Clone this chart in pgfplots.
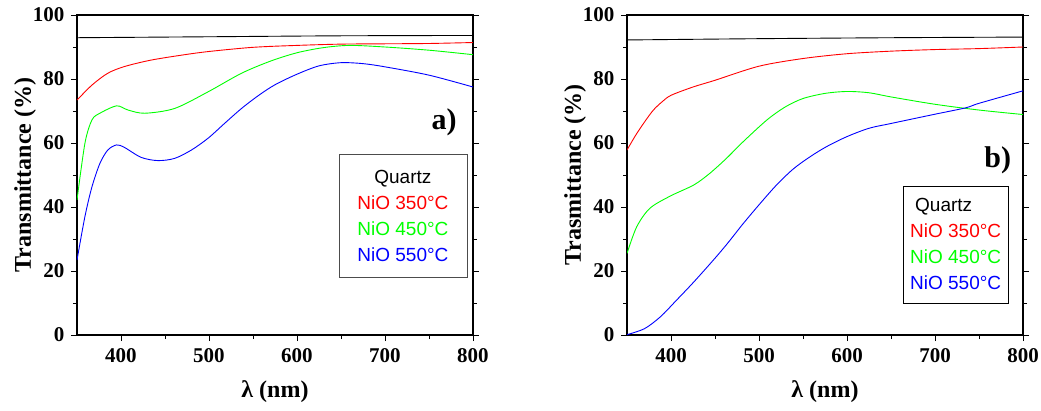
\documentclass[border=0pt]{standalone}
\usepackage{pgfplots}
\pgfplotsset{compat=1.18}
\usepackage{fontspec}
\setmainfont{Liberation Serif}
\setsansfont{Liberation Sans}
\definecolor{pgreen}{RGB}{0,255,0}
\pgfplotsset{
  myax/.style={
    scale only axis, width=396pt, height=320pt,
    xmin=350, xmax=800, ymin=0, ymax=100,
    xtick={400,500,600,700,800}, ytick={0,20,40,60,80,100},
    minor x tick num=1, minor y tick num=1,
    tick align=outside, xtick pos=left, ytick pos=both,
    major tick length=6pt, minor tick length=4pt,
    axis line style={line width=1.1pt}, every tick/.style={line width=0.9pt,black},
    /pgf/number format/assume math mode=true,
    ticklabel style={font=\fontsize{21}{21}\selectfont\bfseries},
    label style={font=\fontsize{24}{24}\selectfont\bfseries},
    xlabel={λ (nm)},
    xlabel style={at={(axis description cs:0.5,-0.178)}, anchor=center},
    ylabel style={at={(axis description cs:-0.131,0.5)}, anchor=center},
    xticklabel style={yshift=-4pt},
    yticklabel style={xshift=-3pt},
    every axis plot/.append style={line width=0.9pt, smooth, no markers},
    clip=true,
  }
}
\begin{document}
\begin{tikzpicture}
\path[use as bounding box] (-77pt,-75pt) rectangle (964pt,335pt);
\begin{axis}[myax, ylabel={Transmittance (\%)}, at={(0pt,0pt)}, anchor=south west]
\addplot[black] coordinates {(350,92.9) (500,93.2) (650,93.5) (800,93.6)};
\addplot[red] coordinates {(350,73.4) (367,78.1) (385,81.8) (404,83.9) (434,85.9) (470,87.5) (500,88.6) (550,89.9) (600,90.5) (650,90.9) (700,91.0) (750,91.1) (800,91.4)};
\addplot[pgreen] coordinates {(350,42.2) (359,59.9) (367,67.2) (376,69.3) (395,71.6) (408,70.3) (427,69.3) (461,70.8) (499,76.0) (537,81.8) (570,85.6) (600,88.2) (630,89.8) (660,90.5) (700,90.0) (750,89.0) (800,87.6)};
\addplot[blue] coordinates {(350,23.4) (359,37.0) (367,46.3) (376,53.6) (385,57.8) (395,59.4) (404,58.6) (423,55.5) (442,54.5) (461,55.2) (480,57.8) (499,61.5) (518,66.2) (537,70.8) (556,74.8) (575,78.2) (600,81.5) (625,84.1) (650,85.1) (675,84.8) (700,83.8) (750,81.2) (800,77.5)};
\node[font=\fontsize{30}{30}\selectfont\bfseries] at (rel axis cs:0.927,0.666) {a)};
\node[draw=black!70, line width=0.8pt, minimum width=128pt, minimum height=123pt, align=center,
  font=\sffamily\fontsize{19}{26}\selectfont] at (rel axis cs:0.823,0.373)
  {Quartz\\\textcolor{red}{NiO 350°C}\\\textcolor{pgreen}{NiO 450°C}\\\textcolor{blue}{NiO 550°C}};
\end{axis}
\begin{axis}[myax, ylabel={Trasmittance (\%)}, at={(550pt,0pt)}, anchor=south west]
\addplot[black] coordinates {(350,92.2) (500,92.6) (650,92.9) (800,93.1)};
\addplot[red] coordinates {(350,57.8) (360,62.5) (370,66.6) (380,70.3) (390,72.9) (400,74.9) (425,77.5) (450,79.6) (500,84.0) (550,86.4) (600,87.9) (650,88.7) (700,89.2) (750,89.5) (800,90.0)};
\addplot[pgreen] coordinates {(350,25.5) (361,33.8) (376,39.6) (399,43.4) (426,46.9) (444,50.5) (463,55.2) (482,60.4) (509,67.2) (530,71.3) (550,73.9) (575,75.5) (600,76.1) (625,75.7) (650,74.4) (700,72.1) (750,70.3) (800,68.9)};
\addplot[blue] coordinates {(350,0.1) (370,2.0) (388,5.7) (406,10.8) (426,16.6) (450,24.0) (465,28.9) (482,34.8) (501,41.0) (520,46.9) (539,51.9) (558,55.7) (577,58.9) (600,62.0) (625,64.6) (650,66.1) (700,69.0) (735,71.0) (750,72.4) (800,76.3)};
\node[font=\fontsize{30}{30}\selectfont\bfseries] at (rel axis cs:0.936,0.547) {b)};
\node[draw=black, line width=0.8pt, minimum width=105pt, minimum height=117pt, align=left,
  font=\sffamily\fontsize{19}{26}\selectfont] at (rel axis cs:0.83,0.283)
  {\hspace*{5pt}Quartz\\\textcolor{red}{NiO 350°C}\\\textcolor{pgreen}{NiO 450°C}\\\textcolor{blue}{NiO 550°C}};
\end{axis}
\end{tikzpicture}
\end{document}
